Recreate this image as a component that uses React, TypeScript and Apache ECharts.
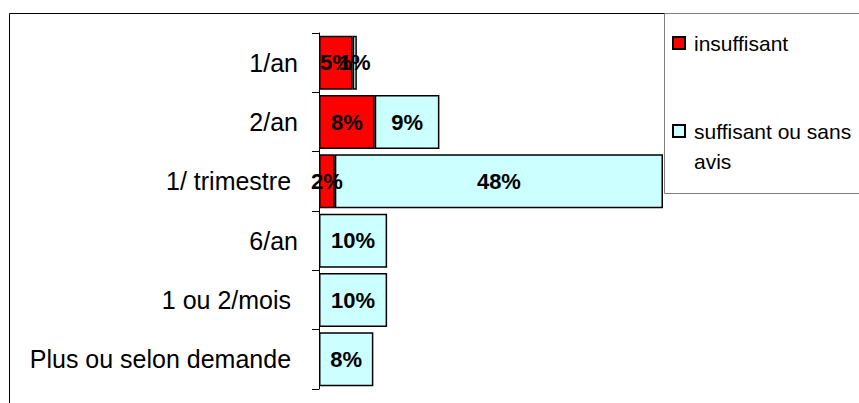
import React, { useEffect, useRef } from "react";
import * as echarts from "echarts";

const categories = ["1/an", "2/an", "1/ trimestre ", "6/an", "1 ou 2/mois ", "Plus ou selon demande "];
const insuffisant: (number | null)[] = [4.9, 8.1, 2.3, null, null, null];
const suffisant: (number | null)[] = [0.6, 9.4, 47.7, 9.9, 9.9, 7.9];
const seriesNames = ["insuffisant", "suffisant ou sans avis"];

const FONT = "'Liberation Sans', Arial, Helvetica, sans-serif";

export default function App() {
  const ref = useRef<HTMLDivElement>(null);
  useEffect(() => {
    if (!ref.current) return;
    const chart = echarts.init(ref.current, null, { renderer: "svg" });
    const label = {
      show: true,
      position: "inside" as const,
      color: "#000",
      fontWeight: "bold" as const,
      fontSize: 22,
      fontFamily: FONT,
      formatter: (p: any) => (p.value == null || p.value === 0 ? "" : Math.round(p.value) + "%"),
    };
    chart.setOption({
      animation: false,
      backgroundColor: "#fff",
      textStyle: { fontFamily: FONT },
      grid: { left: 319, top: 33, width: 344, height: 356 },
      xAxis: {
        type: "value",
        min: 0,
        max: 50,
        show: false,
      },
      yAxis: {
        type: "category",
        data: categories,
        inverse: true,
        axisLine: { show: true, lineStyle: { color: "#000", width: 1 } },
        axisTick: { show: true, length: 7, lineStyle: { color: "#000" } },
        axisLabel: { color: "#000", fontSize: 25, fontFamily: FONT, margin: 21 },
        splitLine: { show: false },
      },
      legend: [
        {
          data: [seriesNames[0]],
          left: 672,
          top: 31,
          orient: "vertical",
          padding: 0,
          itemWidth: 12,
          itemHeight: 12,
          itemGap: 0,
          icon: "rect",
          textStyle: { fontSize: 21, fontFamily: FONT, color: "#000", lineHeight: 24, padding: [0, 0, 0, 4] },
          selectedMode: false,
        },
        {
          data: [seriesNames[1]],
          left: 672,
          top: 86,
          orient: "vertical",
          padding: 0,
          itemWidth: 12,
          itemHeight: 12,
          itemGap: 0,
          icon: "rect",
          formatter: () => "\nsuffisant ou sans\navis",
          textStyle: { fontSize: 21, fontFamily: FONT, color: "#000", lineHeight: 30, padding: [0, 0, 0, 4] },
          selectedMode: false,
        },
      ],
      graphic: [
        {
          type: "rect",
          z: -10,
          silent: true,
          shape: { x: 9.5, y: 13.5, width: 900, height: 500 },
          style: { fill: "none", stroke: "#000", lineWidth: 1 },
        },
        {
          type: "rect",
          z: -10,
          silent: true,
          shape: { x: 664.5, y: 13.5, width: 300, height: 180 },
          style: { fill: "none", stroke: "#7f7f7f", lineWidth: 1 },
        },
      ],
      series: [
        {
          name: seriesNames[0],
          type: "bar",
          stack: "total",
          data: insuffisant,
          barCategoryGap: "9%",
          itemStyle: { color: "#FF0000", borderColor: "#000", borderWidth: 1.5 },
          label,
        },
        {
          name: seriesNames[1],
          type: "bar",
          stack: "total",
          data: suffisant,
          barCategoryGap: "9%",
          itemStyle: { color: "#CCFFFF", borderColor: "#000", borderWidth: 1.5 },
          label,
        },
      ],
    });
    return () => chart.dispose();
  }, []);
  return (
    <div
      ref={ref}
      style={{ position: "absolute", left: 0, top: 0, width: 859, height: 403 }}
    />
  );
}
